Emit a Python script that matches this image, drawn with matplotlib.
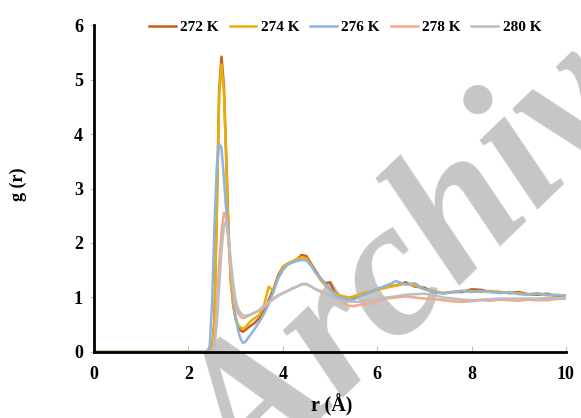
import matplotlib
matplotlib.use("Agg")
import matplotlib.pyplot as plt

r = [0, 2.4, 2.45, 2.5, 2.55, 2.6, 2.65, 2.7, 2.75, 2.8, 2.85, 2.9, 2.95, 3.0,
     3.05, 3.1, 3.15, 3.2,
     3.3, 3.4, 3.5, 3.6, 3.7, 3.8, 3.9, 4.0, 4.1, 4.2, 4.3, 4.4, 4.5, 4.6, 4.7,
     4.8, 4.9, 5.0, 5.1, 5.2, 5.3, 5.4, 5.5, 5.6, 5.7, 5.8, 5.9, 6.0,
     6.2, 6.4, 6.6, 6.8, 7.0, 7.2, 7.4, 7.6, 7.8, 8.0, 8.2, 8.4, 8.6, 8.8,
     9.0, 9.2, 9.4, 9.6, 9.8, 10.0]

g_272 = [0, 0, 0, 0.05, 0.6, 2.6, 4.8, 5.42, 4.9, 3.6, 2.2, 1.3, 0.85, 0.6,
         0.47, 0.4, 0.37, 0.4,
         0.47, 0.53, 0.62, 0.75, 0.95, 1.15, 1.4, 1.56, 1.62, 1.66, 1.7, 1.78, 1.76, 1.62, 1.48,
         1.35, 1.26, 1.28, 1.1, 1.02, 0.98, 0.95, 0.98, 1.02, 1.05, 1.08, 1.12, 1.15,
         1.2, 1.22, 1.28, 1.2, 1.18, 1.1, 1.08, 1.1, 1.1, 1.15, 1.14, 1.1, 1.1, 1.08,
         1.1, 1.06, 1.05, 1.07, 1.02, 1.03]

g_274 = [0, 0, 0, 0.05, 0.55, 2.5, 4.7, 5.28, 4.8, 3.5, 2.1, 1.25, 0.85, 0.62,
         0.5, 0.45, 0.43, 0.45,
         0.55, 0.62, 0.68, 0.85, 1.2, 1.12, 1.35, 1.56, 1.62, 1.66, 1.7, 1.74, 1.72, 1.6, 1.45,
         1.32, 1.22, 1.15, 1.08, 1.04, 1.02, 1.0, 1.02, 1.05, 1.08, 1.1, 1.12, 1.14,
         1.18, 1.22, 1.25, 1.22, 1.15, 1.12, 1.08, 1.1, 1.12, 1.12, 1.1, 1.12, 1.1, 1.08,
         1.08, 1.06, 1.08, 1.04, 1.05, 1.03]

g_276 = [0, 0, 0.1, 0.9, 2.3, 3.4, 3.82, 3.75, 3.2, 2.6, 2.1, 1.5, 1.0, 0.65,
         0.4, 0.25, 0.17, 0.18,
         0.3, 0.42, 0.55, 0.7, 0.88, 1.1, 1.35, 1.5, 1.6, 1.64, 1.67, 1.69, 1.68, 1.58, 1.45,
         1.35, 1.25, 1.15, 1.06, 1.0, 0.98, 0.96, 0.96, 1.0, 1.05, 1.08, 1.12, 1.16,
         1.22, 1.3, 1.24, 1.26, 1.15, 1.1, 1.07, 1.1, 1.12, 1.1, 1.12, 1.1, 1.08, 1.1,
         1.06, 1.05, 1.07, 1.05, 1.04, 1.04]

g_278 = [0, 0, 0, 0, 0.2, 0.8, 1.6, 2.2, 2.55, 2.45, 2.0, 1.5, 1.1, 0.85,
         0.72, 0.65, 0.62, 0.63,
         0.68, 0.72, 0.76, 0.82, 0.9, 0.97, 1.03, 1.08, 1.12, 1.16, 1.2, 1.25, 1.24, 1.2, 1.15,
         1.12, 1.08, 1.05, 1.0, 0.95, 0.9, 0.85, 0.84, 0.86, 0.88, 0.88, 0.9, 0.94,
         0.98, 1.0, 1.02, 1.0, 0.98, 0.97, 0.95, 0.93, 0.92, 0.93, 0.95, 0.94, 0.96, 0.95,
         0.94, 0.96, 0.95, 0.95, 0.97, 0.98]

g_280 = [0, 0, 0, 0, 0.1, 0.5, 1.2, 1.85, 2.3, 2.4, 2.1, 1.65, 1.25, 0.95,
         0.8, 0.72, 0.68, 0.66,
         0.68, 0.72, 0.77, 0.85, 0.92, 0.98, 1.04, 1.08, 1.12, 1.17, 1.2, 1.24, 1.25, 1.2, 1.15,
         1.1, 1.08, 1.05, 1.0, 0.96, 0.93, 0.92, 0.92, 0.92, 0.94, 0.95, 0.95, 0.97,
         1.0, 1.02, 1.05, 1.06, 1.07, 1.04, 1.0, 0.98, 0.96, 0.95, 0.96, 0.97, 0.98, 0.98,
         0.98, 0.98, 0.98, 0.99, 0.99, 0.98]

labels = ["272 K", "274 K", "276 K", "278 K", "280 K"]
colors = ["#C8601A", "#E8AE0C", "#8FB4E0", "#F2A98A", "#BEBEBE"]
series = [g_272, g_274, g_276, g_278, g_280]

xticks = [0, 2, 4, 6, 8, 10]
yticks = [0, 1, 2, 3, 4, 5, 6]

serif = ["Liberation Serif", "DejaVu Serif"]
plt.rcParams["font.family"] = serif
plt.rcParams["font.weight"] = "bold"

fig = plt.figure(figsize=(5.81, 4.18), dpi=100)

# watermark behind the plot
fig.text(0.762, 0.41, "Archive", rotation=44, ha="center", va="center",
         fontsize=140, fontstyle="italic", fontweight="bold", color="#C6C6C6",
         zorder=-1)

ax = fig.add_axes([0.162, 0.158, 0.812, 0.782])
ax.set_facecolor("none")

for y, lab, c in zip(series, labels, colors):
    ax.plot(r, y, color=c, lw=1.8, label=lab, solid_joinstyle="round")

ax.set_xlim(0, 10)
ax.set_ylim(0, 6)
ax.set_xticks(xticks)
ax.set_yticks(yticks)
ax.set_xticklabels([str(t) for t in xticks], fontsize=13, fontweight="bold")
ax.set_yticklabels([str(t) for t in yticks], fontsize=13, fontweight="bold")
for s in ["top", "right"]:
    ax.spines[s].set_visible(False)
for s in ["left", "bottom"]:
    ax.spines[s].set_linewidth(2.0)
    ax.spines[s].set_color("black")
    ax.spines[s].set_zorder(3)
ax.tick_params(axis="x", direction="in", length=4, color="#BFBFBF", pad=10)
ax.tick_params(axis="y", direction="out", length=3, color="#BFBFBF", pad=5)

fig.text(0.031, 0.56, "g (r)", rotation=90, ha="center", va="center",
         fontsize=13, fontweight="bold")
fig.text(0.571, 0.031, "r (Å)", ha="center", va="center",
         fontsize=14.5, fontweight="bold")

fig.legend(loc="center", bbox_to_anchor=(0.594, 0.935), ncol=5, frameon=False,
           prop={"size": 11, "weight": "bold"}, handlelength=1.75,
           handletextpad=0.3, columnspacing=0.7)

fig.savefig("out.png", dpi=100)
